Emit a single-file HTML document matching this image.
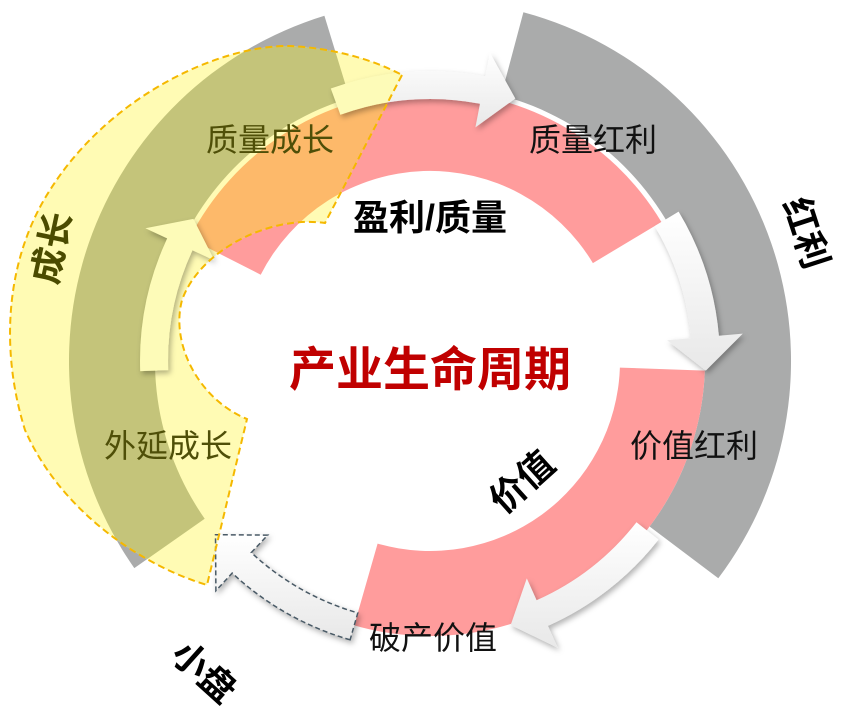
<!DOCTYPE html>
<html><head><meta charset="utf-8"><style>
html,body{margin:0;padding:0;background:#fff;}
svg{display:block;}
text{font-family:"Liberation Sans","Noto Sans CJK SC",sans-serif;}
</style></head><body>
<svg width="846" height="714" viewBox="0 0 846 714" xmlns="http://www.w3.org/2000/svg">
<defs>
<filter id="sh" x="-20%" y="-20%" width="140%" height="140%"><feDropShadow dx="2" dy="3" stdDeviation="3" flood-color="#000" flood-opacity="0.3"/></filter>
<clipPath id="yc"><path d="M402,75 L325,223 C270,215 200,250 182,300 C170,345 200,400 247,419 L207,585 C140,565 60,510 25,430 C0,350 5,260 50,190 C110,95 220,45 290,46 C330,48 370,58 402,75 Z"/></clipPath>
<linearGradient id="wg" x1="0" y1="0" x2="0" y2="1"><stop offset="0" stop-color="#ffffff"/><stop offset="1" stop-color="#e8e8e8"/></linearGradient>
</defs>
<path d="M523.4,12.3 A361,361 0 0 1 718.3,578.3 L649.6,526.5 A275,275 0 0 0 501.2,95.4 Z" fill="#aaabab"/>
<path d="M134.3,568.1 A361,361 0 0 1 324.4,15.8 L349.6,98 A275,275 0 0 0 204.7,518.7 Z" fill="#aaabab"/>
<path d="M189.4,238.4 A270,270 0 0 1 661.4,222 L592.9,263.1 A190,190 0 0 0 260.7,274.7 Z" fill="#ff9c9c"/>
<path d="M619.9,367.6 L704.8,370.6 A275,275 0 0 1 354.2,625.4 L377.6,543.6 A190,190 0 0 0 619.9,367.6 Z" fill="#ff9c9c"/>
<g filter="url(#sh)" fill="url(#wg)">
<path d="M330.8,88.5 A290,290 0 0 1 485.3,76.3 L489.9,52.8 L515.3,98.5 L475.4,127.4 L480,103.8 A262,262 0 0 0 340.4,114.8 Z"/>
<path d="M678.6,211.6 A290,290 0 0 1 718.9,335.7 L742.8,333.6 L705.8,370.6 L667.1,340.3 L691,338.2 A262,262 0 0 0 654.6,226.1 Z"/>
<path d="M658.5,539.6 A290,290 0 0 1 547.9,625.9 L557.7,647.8 L510.7,625 L526.8,578.4 L536.6,600.3 A262,262 0 0 0 636.5,522.3 Z"/>
</g>
<path d="M350.1,639.8 A290,290 0 0 1 232.2,573.1 L215.9,590.7 L215.5,534.7 L267.7,535.1 L251.3,552.6 A262,262 0 0 0 357.8,612.9 Z" fill="url(#wg)" stroke="#4a5a66" stroke-width="1.5" stroke-dasharray="5,3" filter="url(#sh)"/>
<path d="M402,75 L325,223 C270,215 200,250 182,300 C170,345 200,400 247,419 L207,585 C140,565 60,510 25,430 C0,350 5,260 50,190 C110,95 220,45 290,46 C330,48 370,58 402,75 Z" fill="#fffbb4"/>
<g clip-path="url(#yc)">
<path d="M134.3,568.1 A361,361 0 0 1 324.4,15.8 L349.6,98 A275,275 0 0 0 204.7,518.7 Z" fill="#c4c47a"/>
<path d="M189.4,238.4 A270,270 0 0 1 661.4,222 L592.9,263.1 A190,190 0 0 0 260.7,274.7 Z" fill="#fdb96a"/>
<path d="M330.8,88.5 A290,290 0 0 1 485.3,76.3 L489.9,52.8 L515.3,98.5 L475.4,127.4 L480,103.8 A262,262 0 0 0 340.4,114.8 Z" fill="#fdfbb8" filter="url(#sh)"/>
<path d="M350.1,639.8 A290,290 0 0 1 232.2,573.1 L215.9,590.7 L215.5,534.7 L267.7,535.1 L251.3,552.6 A262,262 0 0 0 357.8,612.9 Z" fill="#fdfbb8" stroke="#4a5a66" stroke-width="1.5" stroke-dasharray="5,3"/>
</g>
<path d="M140.2,371.1 A290,290 0 0 1 167.2,238.4 L145.4,228.3 L193.4,218.9 L214.3,260.4 L192.5,250.3 A262,262 0 0 0 168.2,370.1 Z" fill="#fdfbb8" filter="url(#sh)"/>
<path d="M402,75 L325,223 C270,215 200,250 182,300 C170,345 200,400 247,419 L207,585 C140,565 60,510 25,430 C0,350 5,260 50,190 C110,95 220,45 290,46 C330,48 370,58 402,75 Z" fill="none" stroke="#f5b800" stroke-width="2" stroke-dasharray="7,4"/>
<text x="270" y="151" font-size="32" fill="#4f4f08" text-anchor="middle">质量成长</text>
<text x="593" y="151" font-size="32" fill="#111" text-anchor="middle">质量红利</text>
<text x="430" y="230" font-size="36" font-weight="bold" fill="#000" text-anchor="middle">盈利/质量</text>
<text x="430" y="386" font-size="47" font-weight="bold" fill="#c00000" text-anchor="middle">产业生命周期</text>
<text x="694" y="457" font-size="32" fill="#111" text-anchor="middle">价值红利</text>
<text x="433" y="649" font-size="32" fill="#111" text-anchor="middle">破产价值</text>
<text x="168" y="457" font-size="32" fill="#4f4f08" text-anchor="middle">外延成长</text>
<text transform="translate(522,482) rotate(-42)" font-size="36" font-weight="bold" fill="#000" text-anchor="middle" dominant-baseline="central">价值</text>
<text transform="translate(52,248) rotate(-78)" font-size="36" font-weight="bold" fill="#4b4b00" text-anchor="middle" dominant-baseline="central">成长</text>
<text transform="translate(806,233) rotate(72)" font-size="36" font-weight="bold" fill="#000" text-anchor="middle" dominant-baseline="central">红利</text>
<text transform="translate(204,672) rotate(42)" font-size="36" font-weight="bold" fill="#000" text-anchor="middle" dominant-baseline="central">小盘</text>
</svg>
</body></html>
